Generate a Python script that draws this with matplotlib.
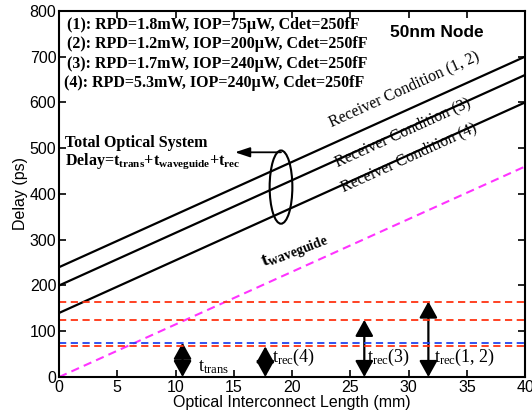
import matplotlib
matplotlib.use("Agg")
import matplotlib.pyplot as plt
from matplotlib.patches import Ellipse, FancyArrowPatch

# -----------------------------
# DATA
# -----------------------------
length_mm = [0, 40]
delay_cond12 = [240, 700]
delay_cond3 = [200, 660]
delay_cond4 = [140, 600]
delay_waveguide = [0, 460]

t_trans = 75
t_rec = {"(1, 2)": 165, "(3)": 125, "(4)": 67}

conditions = [
    "(1): RPD=1.8mW, IOP=75\u00b5W, Cdet=250fF",
    "(2): RPD=1.2mW, IOP=200\u00b5W, Cdet=250fF",
    "(3): RPD=1.7mW, IOP=240\u00b5W, Cdet=250fF",
    "(4): RPD=5.3mW, IOP=240\u00b5W, Cdet=250fF",
]

# x position of each double arrow
arrow_x = {"trans": 10.6, "(4)": 17.7, "(3)": 26.2, "(1, 2)": 31.7}

SERIF = "Liberation Serif"
SANS = "Liberation Sans"
RED = "#ff3311"
BLUE = "#2244ee"
MAGENTA = "#ff33ff"

plt.rcParams["mathtext.fontset"] = "custom"
plt.rcParams["mathtext.rm"] = SERIF
plt.rcParams["mathtext.bf"] = SERIF + ":bold"
plt.rcParams["mathtext.it"] = SERIF + ":italic"

fig = plt.figure(figsize=(5.32, 4.18), dpi=100)
ax = fig.add_axes([0.111, 0.098, 0.876, 0.876])

# total delay lines
for d in (delay_cond12, delay_cond3, delay_cond4):
    ax.plot(length_mm, d, color="black", lw=1.6)

# waveguide delay
ax.plot(length_mm, delay_waveguide, color=MAGENTA, lw=1.5, dashes=(4, 2.5))

# constant receiver / transmitter delays
for v in t_rec.values():
    ax.axhline(v, color=RED, lw=1.3, dashes=(4, 2.5))
ax.axhline(t_trans, color=BLUE, lw=1.3, dashes=(4, 2.5))


def double_arrow(x, top):
    ax.add_patch(FancyArrowPatch((x, 0), (x, top),
                                 arrowstyle="<|-|>,head_length=0.9,head_width=0.5",
                                 mutation_scale=11, color="black", lw=1.6,
                                 shrinkA=0, shrinkB=0, clip_on=False))


double_arrow(arrow_x["trans"], t_trans)
for key in ("(4)", "(3)", "(1, 2)"):
    double_arrow(arrow_x[key], t_rec[key])

ax.text(arrow_x["trans"] + 1.3, 12, r"t$_{\mathregular{trans}}$", family=SERIF, fontsize=13)
ax.text(arrow_x["(4)"] + 0.6, 33, r"t$_{\mathregular{rec}}$(4)", family=SERIF, fontsize=13)
ax.text(arrow_x["(3)"] + 0.2, 33, r"t$_{\mathregular{rec}}$(3)", family=SERIF, fontsize=13)
ax.text(arrow_x["(1, 2)"] + 0.45, 33, r"t$_{\mathregular{rec}}$(1, 2)", family=SERIF, fontsize=13)

# labels along the lines
angle = 24.5
ax.text(23.4, 546, "Receiver Condition (1, 2)", family=SERIF, fontsize=11.5,
        rotation=angle, rotation_mode="anchor", ha="left", va="baseline")
ax.text(23.9, 459, "Receiver Condition (3)", family=SERIF, fontsize=11.5,
        rotation=angle, rotation_mode="anchor", ha="left", va="baseline")
ax.text(24.4, 404, "Receiver Condition (4)", family=SERIF, fontsize=11.5,
        rotation=angle, rotation_mode="anchor", ha="left", va="baseline")
ax.text(17.5, 240, r"t$_{\mathregular{waveguide}}$", family=SERIF, fontsize=14,
        fontweight="bold", rotation=21, rotation_mode="anchor", ha="left", va="baseline")

# ellipse grouping the total delay lines, with pointer to its caption
ax.add_patch(Ellipse((19.05, 415), 1.95, 160, fill=False, color="black", lw=1.5))
ax.annotate("", xy=(15.1, 491), xytext=(19.05, 491),
            arrowprops=dict(arrowstyle="-|>,head_length=0.9,head_width=0.3", color="black",
                            lw=1.3, shrinkA=0, shrinkB=0))
ax.text(0.55, 502, "Total Optical System", family=SERIF, fontsize=11.5, fontweight="bold")
ax.text(0.55, 464,
        r"Delay=t$_{\mathregular{trans}}$+t$_{\mathregular{waveguide}}$+t$_{\mathregular{rec}}$",
        family=SERIF, fontsize=11.5, fontweight="bold")

for i, c in enumerate(conditions):
    ax.text(0.7 if i < 3 else 0.45, 769 - i * 42, c, family=SERIF, fontsize=11.5,
            fontweight="bold", va="center")

ax.text(28.4, 753, "50nm Node", family=SANS, fontsize=12.5, fontweight="bold", va="center")

ax.set_xlim(0, 40)
ax.set_ylim(0, 800)
ax.set_xticks(range(0, 41, 5))
ax.set_yticks(range(0, 801, 100))
ax.tick_params(direction="in", top=True, right=True, length=5, width=1.2, labelsize=11.5, pad=2)
for lab in ax.get_xticklabels() + ax.get_yticklabels():
    lab.set_family(SANS)
for s in ax.spines.values():
    s.set_linewidth(1.5)
ax.set_xlabel("Optical Interconnect Length (mm)", family=SANS, fontsize=11.5, labelpad=0)
ax.set_ylabel("Delay (ps)", family=SANS, fontsize=11.5, labelpad=1)

fig.savefig("out.png", dpi=100)
